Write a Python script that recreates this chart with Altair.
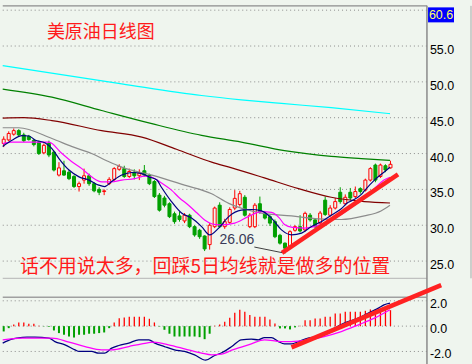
import altair as alt
import pandas as pd

BG = "#eff5ee"

# ---- daily candles (index 0..77) ----
opens = [41.4, 41.9, 42.7, 43.2, 42.6, 42.4, 41.85, 41.6, 40.1, 41.4,
         40.2, 37.0, 37.6, 37.4, 36.8, 35.4, 36.3, 36.9, 35.8, 35.0,
         34.7, 35.8, 36.4, 37.8, 37.9, 36.8, 37.4, 36.9, 37.6, 37.0,
         36.1, 34.2, 33.8, 33.0, 31.6, 31.3, 30.6, 31.4, 29.8, 29.3,
         28.5, 27.3, 29.8, 32.8, 29.8, 30.4, 32.4, 32.9, 33.9, 29.8,
         29.8, 33.0, 31.7, 31.2, 30.5, 28.6, 27.5, 27.0, 29.3, 29.8,
         29.35, 31.4, 30.75, 30.3, 33.5, 31.4, 32.4, 34.6, 33.0, 34.6,
         34.0, 35.1, 34.9, 36.3, 38.4, 36.8, 38.3, 38.0]
highs = [42.4, 43.1, 43.5, 43.4, 42.9, 42.6, 42.0, 41.8, 41.4, 41.8,
         40.4, 38.8, 39.0, 37.7, 37.0, 36.1, 37.9, 37.2, 36.0, 35.3,
         35.0, 36.7, 38.1, 38.5, 38.3, 37.9, 37.8, 37.8, 38.4, 37.2,
         36.3, 34.5, 34.1, 33.2, 31.9, 31.9, 31.7, 31.6, 30.0, 29.5,
         28.6, 30.3, 32.6, 33.2, 30.9, 32.5, 34.9, 34.8, 34.2, 31.7,
         33.1, 34.0, 32.0, 31.5, 30.8, 28.8, 27.6, 29.3, 30.0, 31.4,
         31.9, 31.7, 31.0, 32.0, 34.0, 32.8, 33.8, 35.3, 34.3, 35.2,
         35.4, 35.3, 36.5, 38.1, 38.6, 38.6, 38.5, 39.0]
lows = [40.9, 41.7, 42.5, 42.4, 41.6, 41.8, 41.0, 39.8, 39.9, 39.5,
        37.5, 36.8, 36.9, 36.3, 35.2, 34.7, 35.8, 35.5, 34.6, 34.2,
        34.2, 35.6, 36.2, 37.6, 36.6, 36.6, 36.4, 36.3, 36.8, 35.6,
        33.8, 31.9, 32.5, 31.0, 30.2, 30.5, 30.3, 29.6, 28.4, 28.1,
        26.4, 26.6, 29.6, 29.6, 29.5, 30.2, 32.1, 32.6, 31.2, 29.6,
        29.6, 31.6, 30.8, 29.9, 28.2, 27.3, 26.06, 26.8, 29.1, 29.0,
        29.1, 30.5, 29.6, 30.1, 31.3, 31.2, 32.2, 33.0, 32.8, 33.5,
        33.8, 34.4, 34.7, 36.1, 36.0, 36.6, 37.4, 37.9]
closes = [42.0, 42.8, 43.2, 42.6, 41.8, 41.95, 41.25, 40.0, 41.15, 39.8,
          37.7, 38.0, 37.0, 36.5, 35.4, 35.8, 36.9, 35.8, 34.8, 34.6,
          34.8, 36.4, 37.9, 38.2, 36.8, 37.5, 36.9, 37.3, 37.0, 35.8,
          34.0, 32.1, 32.8, 31.2, 30.5, 30.8, 31.4, 29.8, 28.65, 28.4,
          26.7, 30.0, 32.4, 29.8, 30.5, 32.2, 33.75, 34.4, 31.4, 31.4,
          32.8, 31.9, 31.0, 30.3, 28.4, 27.5, 26.8, 29.1, 29.8, 29.2,
          31.66, 30.75, 29.8, 31.7, 31.5, 32.4, 33.3, 33.3, 33.9, 33.8,
          34.7, 34.7, 36.3, 37.9, 36.3, 38.4, 37.7, 38.5]

# ---- moving averages (candle index, price) ----
ma5_idx = [-0.2, 1.65, 3.64, 5.03, 6.22, 8.2, 9.6, 11.0, 13.0, 15.0,
           17.0, 18.9, 20.1, 21.5, 23.5, 25.5, 27.5, 28.9, 30.5, 31.4,
           33.4, 35.4, 37.4, 39.4, 41.0, 42.8, 44.8, 47.3, 49.3, 51.3,
           53.3, 55.3, 57.3, 59.3, 61.2, 63.2, 65.2, 67.2, 68.6, 69.2,
           71.2, 71.8, 73.8, 75.7, 76.9]
ma5_val = [41.0, 41.85, 42.5, 42.45, 41.9, 41.5, 40.7, 39.3, 37.7, 36.75,
           36.3, 35.6, 35.4, 36.1, 37.0, 37.36, 37.2, 36.75, 36.3, 35.3,
           33.3, 31.7, 31.0, 29.8, 28.65, 29.6, 31.2, 32.1, 32.2, 32.0,
           31.0, 29.35, 28.65, 28.9, 29.8, 30.5, 31.4, 32.3, 33.2, 33.4,
           34.3, 34.8, 36.3, 37.4, 38.1]
ma10_idx = [-0.2, 1.65, 9.0, 11.6, 13.5, 15.55, 17.5, 19.5, 21.5, 23.5,
            26.1, 28.1, 29.5, 31.4, 33.4, 35.0, 36.8, 38.5, 40.0, 42.8,
            46.0, 48.7, 51.3, 53.3, 54.9, 55.9, 57.5, 59.9, 61.8, 64.6,
            67.2, 69.8, 71.8, 73.8, 75.7, 76.9]
ma10_val = [41.39, 41.6, 41.6, 40.0, 38.9, 37.9, 36.75, 36.05, 36.05, 36.3,
            36.5, 36.85, 36.7, 35.9, 34.9, 33.8, 32.8, 31.7, 30.74, 30.04,
            30.3, 31.2, 31.9, 31.8, 31.0, 30.1, 29.7, 29.6, 29.8, 30.5,
            31.5, 32.8, 33.75, 35.1, 36.3, 36.7]
ma30_idx = [-0.2, 3.0, 9.6, 13.5, 17.5, 20.5, 23.5, 29.5, 36.0, 41.4,
            44.8, 48.7, 51.3, 57.3, 62.6, 67.2, 71.8, 75.1, 76.9]
ma30_val = [43.6, 43.6, 42.1, 41.0, 40.0, 39.0, 38.1, 37.0, 35.6, 34.4,
            33.05, 32.1, 31.7, 31.3, 30.9, 30.8, 31.3, 32.0, 32.8]
ma60_idx = [-0.2, 4.0, 9.6, 19.5, 27.5, 34.4, 41.4, 45.4, 51.9, 58.7,
            65.2, 71.8, 76.9]
ma60_val = [44.95, 45.0, 44.6, 43.2, 42.3, 40.6, 38.8, 38.0, 36.6, 35.1,
            33.9, 33.3, 33.1]
ma120_idx = [-0.2, 9.6, 19.5, 29.5, 39.4, 47.3, 55.9, 65.2, 71.2, 76.9]
ma120_val = [49.0, 47.86, 46.0, 44.17, 42.54, 41.6, 40.4, 39.6, 39.3, 39.05]
ma250_idx = [-0.2, 23.5, 39.4, 47.3, 55.3, 65.2, 76.9]
ma250_val = [52.26, 49.72, 48.1, 47.5, 46.99, 46.4, 45.56]

# ---- MACD ----
macd_hist = [-0.42, -0.16, 0.13, 0.29, 0.29, 0.18, 0.18, 0.03, -0.02, -0.05,
             -0.34, -0.55, -0.68, -0.82, -0.9, -0.68, -0.68, -0.6, -0.6, -0.55,
             -0.5, -0.16, 0.29, 0.63, 0.68, 0.74, 0.74, 0.74, 0.74, 0.58,
             0.29, -0.03, -0.29, -0.6, -0.82, -0.82, -0.82, -0.82, -0.82, -0.87,
             -1.03, -0.6, 0.02, 0.12, 0.34, 0.66, 1.05, 1.3, 1.13, 0.87,
             0.74, 0.74, 0.74, 0.53, 0.21, -0.18, -0.18, -0.26, -0.1, 0.02,
             0.47, 0.47, 0.6, 0.6, 0.74, 0.74, 1.0, 1.0, 1.13, 1.13,
             1.13, 1.13, 1.21, 1.32, 1.32, 1.26, 1.26, 1.26]
dif_idx = [-0.2, 1.65, 2.64, 4.63, 6.22, 9.0, 10.2, 12.2, 14.2, 15.0,
           17.5, 18.9, 20.1, 21.5, 22.9, 24.9, 26.9, 28.9, 30.1, 32.0,
           34.0, 36.0, 38.0, 40.2, 42.0, 43.4, 45.4, 47.3, 49.3, 50.7,
           51.9, 53.3, 54.7, 55.9, 57.3, 58.7, 60.6, 62.6, 65.2, 67.8,
           70.6, 73.2, 74.6, 75.7, 76.9]
dif_val = [-1.34, -1.03, -0.95, -0.87, -0.87, -0.95, -1.22, -1.48, -1.87, -2.0,
           -2.0, -2.13, -2.13, -1.74, -1.53, -1.34, -1.08, -1.08, -1.34, -1.61,
           -1.87, -2.0, -2.27, -2.69, -2.32, -2.1, -1.61, -1.08, -1.03, -1.08,
           -0.9, -0.9, -1.22, -1.4, -1.4, -1.22, -0.95, -0.82, -0.29, 0.24,
           0.63, 1.15, 1.42, 1.68, 1.82]
dea_idx = [-0.2, 3.6, 9.6, 13.0, 16.2, 19.5, 21.5, 24.9, 27.5, 29.9,
           32.8, 36.0, 39.4, 41.4, 43.4, 45.4, 47.3, 49.3, 51.9, 55.3,
           57.3, 60.6, 63.8, 67.2, 70.6, 73.8, 76.9]
dea_val = [-1.08, -0.95, -0.95, -1.26, -1.61, -1.87, -1.87, -1.61, -1.4, -1.26,
           -1.48, -1.79, -2.13, -2.27, -2.21, -1.9, -1.65, -1.4, -1.08, -1.22,
           -1.22, -1.08, -0.82, -0.43, 0.1, 0.63, 1.29]

# ---- ticks and annotations ----
price_grid = [25, 30, 35, 40, 45, 50, 55, 60]
price_labels = ["25.0", "30.0", "35.0", "40.0", "45.0", "50.0", "55.0"]
macd_grid = [-2, 0, 2]
macd_labels = ["-2.0", "0.0", "2.0"]
title_text = "美原油日线图"
note_text = "话不用说太多，回踩5日均线就是做多的位置"
top_value = 60.6
low_value = 26.06
low_index = 56
trend_idx = [55.4, 78.5]
trend_val = [26.15, 37.1]
macd_trend_idx = [57.3, 87.1]
macd_trend_val = [-1.68, 3.24]

X_DOM = [-0.34, 84.29]
P_DOM = [22.6, 60.6]
M_DOM = [-3.0, 2.28]
W = 426
H_MAIN = 273
H_MACD = 67
LABEL_I = 84.85     # label column just right of the price axis line
AXIS_I = X_DOM[1] - 0.03


def X(field="i"):
    return alt.X(f"{field}:Q",
                 scale=alt.Scale(domain=X_DOM, nice=False, zero=False, padding=0),
                 axis=None)


def Y(field, dom):
    return alt.Y(f"{field}:Q",
                 scale=alt.Scale(domain=dom, nice=False, zero=False, padding=0),
                 axis=None)


RED = "#ff0000"
GRN = "#00a000"
up = [c >= o for o, c in zip(opens, closes)]
cdf = pd.DataFrame({
    "i": list(range(len(closes))), "open": opens, "high": highs, "low": lows, "close": closes,
    "col": [RED if u else GRN for u in up],
    "fill": [BG if u else GRN for u in up],
})

# gridlines + labels (main)
gdf = pd.DataFrame({"i": [-0.19] * len(price_grid), "i2": [X_DOM[1]] * len(price_grid),
                    "v": price_grid})
grid_main = alt.Chart(gdf).mark_rule(color="#8c8c8c", strokeWidth=1, strokeDash=[1, 3]).encode(
    x=X(), x2="i2:Q", y=Y("v", P_DOM))
pldf = pd.DataFrame({"i": [LABEL_I] * len(price_labels),
                     "v": [float(s) for s in price_labels], "t": price_labels})
labels_main = alt.Chart(pldf).mark_text(
    align="left", baseline="middle", dy=4, font="Liberation Sans", fontSize=12.5,
    color="#000000").encode(x=X(), y=Y("v", P_DOM), text="t:N")

wicks = alt.Chart(cdf).mark_rule(strokeWidth=1).encode(
    x=X(), y=Y("low", P_DOM), y2="high:Q",
    color=alt.Color("col:N", scale=None))
bodies = alt.Chart(cdf).mark_bar(width=3, strokeWidth=1).encode(
    x=X(), y=Y("open", P_DOM), y2="close:Q",
    fill=alt.Fill("fill:N", scale=None), stroke=alt.Stroke("col:N", scale=None))

ma_specs = [("MA250", ma250_idx, ma250_val, "#00ffff"),
            ("MA120", ma120_idx, ma120_val, "#008000"),
            ("MA60", ma60_idx, ma60_val, "#800000"),
            ("MA30", ma30_idx, ma30_val, "#8c8c8c"),
            ("MA10", ma10_idx, ma10_val, "#ff00ff"),
            ("MA5", ma5_idx, ma5_val, "#000080")]
rows = []
for name, ii, vv, col in ma_specs:
    for a, b in zip(ii, vv):
        rows.append({"i": a, "v": b, "s": name, "col": col})
mdf = pd.DataFrame(rows)
ma_lines = alt.Chart(mdf).mark_line(interpolate="monotone", strokeWidth=1.2).encode(
    x=X(), y=Y("v", P_DOM), color=alt.Color("col:N", scale=None), detail="s:N")

# panel borders
bdf = pd.DataFrame({"i": [-0.19, -0.19], "i2": [X_DOM[1], X_DOM[1]],
                    "v": [P_DOM[1], P_DOM[0]], "col": ["#8c8c8c", "#b4b4b4"],
                    "w": [1.5, 1.0]})
borders = alt.Chart(bdf).mark_rule().encode(
    x=X(), x2="i2:Q", y=Y("v", P_DOM), color=alt.Color("col:N", scale=None),
    strokeWidth=alt.StrokeWidth("w:Q", scale=None))
gap_px = 19
adf = pd.DataFrame({"i": [AXIS_I], "v": [P_DOM[1]],
                    "v2": [P_DOM[0] - gap_px * (P_DOM[1] - P_DOM[0]) / H_MAIN]})
axis_main = alt.Chart(adf).mark_rule(color="#8a8a8a", strokeWidth=1.5).encode(
    x=X(), y=Y("v", P_DOM), y2="v2:Q")

# far-right edge line
edf = pd.DataFrame({"i": [93.03], "v": [P_DOM[0]], "v2": [P_DOM[1]]})
edge = alt.Chart(edf).mark_rule(color="#a8a8a8", strokeWidth=1).encode(
    x=X(), y=Y("v", P_DOM), y2="v2:Q")

tdf = pd.DataFrame({"i": trend_idx, "v": trend_val})
trend = alt.Chart(tdf).mark_line(color="#ff2222", strokeWidth=4.5).encode(
    x=X(), y=Y("v", P_DOM))

title_df = pd.DataFrame({"i": [8.6], "v": [56.84], "t": [title_text]})
title_mark = alt.Chart(title_df).mark_text(
    align="left", baseline="middle", font="Noto Sans CJK SC", fontSize=18,
    color="#ff1a1a").encode(x=X(), y=Y("v", P_DOM), text="t:N")
note_df = pd.DataFrame({"i": [3.24], "v": [24.13], "t": [note_text]})
note_mark = alt.Chart(note_df).mark_text(
    align="left", baseline="middle", font="Noto Sans CJK SC", fontSize=19,
    color="#ff1a1a").encode(x=X(), y=Y("v", P_DOM), text="t:N")

low_df = pd.DataFrame({"i": [low_index - 6.1], "v": [low_value + 1.9],
                       "t": [f"{low_value:.2f}"]})
low_text = alt.Chart(low_df).mark_text(
    align="right", baseline="middle", font="Liberation Sans", fontSize=14,
    color="#3a3a58").encode(x=X(), y=Y("v", P_DOM), text="t:N")
ptr_df = pd.DataFrame({"i": [low_index - 6.1], "i2": [low_index - 0.6],
                       "v": [low_value + 0.9], "v2": [low_value + 0.12]})
pointer = alt.Chart(ptr_df).mark_rule(color="#404040", strokeWidth=1).encode(
    x=X(), x2="i2:Q", y=Y("v", P_DOM), y2="v2:Q")

box_df = pd.DataFrame({"i": [84.48], "i2": [89.65], "v": [top_value - 0.21],
                       "v2": [top_value - 2.3]})
box = alt.Chart(box_df).mark_rect(color="#0000ff").encode(
    x=X(), x2="i2:Q", y=Y("v", P_DOM), y2="v2:Q")
box_t_df = pd.DataFrame({"i": [87.07], "v": [top_value - 1.25], "t": [f"{top_value:.1f}"]})
box_text = alt.Chart(box_t_df).mark_text(
    align="center", baseline="middle", font="Liberation Sans", fontSize=12.5,
    color="#ffff66").encode(x=X(), y=Y("v", P_DOM), text="t:N")

main = alt.layer(grid_main, wicks, bodies, ma_lines, borders, axis_main, edge, trend,
                 title_mark, note_mark, low_text, pointer, box, box_text, labels_main
                 ).properties(width=W, height=H_MAIN)

# ---- MACD panel ----
mgdf = pd.DataFrame({"i": [-0.19] * len(macd_grid), "i2": [X_DOM[1]] * len(macd_grid),
                     "v": macd_grid})
grid_macd = alt.Chart(mgdf).mark_rule(color="#8c8c8c", strokeWidth=1, strokeDash=[1, 3]).encode(
    x=X(), x2="i2:Q", y=Y("v", M_DOM))
mldf = pd.DataFrame({"i": [LABEL_I] * len(macd_labels),
                     "v": [float(s) for s in macd_labels], "t": macd_labels})
labels_macd = alt.Chart(mldf).mark_text(
    align="left", baseline="middle", dy=3, font="Liberation Sans", fontSize=12.5,
    color="#000000").encode(x=X(), y=Y("v", M_DOM), text="t:N")

hdf = pd.DataFrame({"i": list(range(len(macd_hist))), "h": macd_hist,
                    "z": [0.0] * len(macd_hist),
                    "col": [RED if h >= 0 else GRN for h in macd_hist],
                    "w": [1.3 if h >= 0 else 2.0 for h in macd_hist]})
hist = alt.Chart(hdf).mark_rule().encode(
    x=X(), y=Y("h", M_DOM), y2="z:Q",
    color=alt.Color("col:N", scale=None), strokeWidth=alt.StrokeWidth("w:Q", scale=None))

lrows = []
for a, b in zip(dif_idx, dif_val):
    lrows.append({"i": a, "v": b, "s": "DIF", "col": "#000080"})
for a, b in zip(dea_idx, dea_val):
    lrows.append({"i": a, "v": b, "s": "DEA", "col": "#ff00ff"})
ldf = pd.DataFrame(lrows)
macd_lines = alt.Chart(ldf).mark_line(interpolate="monotone", strokeWidth=1.3).encode(
    x=X(), y=Y("v", M_DOM), color=alt.Color("col:N", scale=None), detail="s:N")

mbdf = pd.DataFrame({"i": [-0.19], "i2": [X_DOM[1]], "v": [M_DOM[1]]})
mborder = alt.Chart(mbdf).mark_rule(color="#a0a0a0", strokeWidth=1.5).encode(
    x=X(), x2="i2:Q", y=Y("v", M_DOM))
maxdf = pd.DataFrame({"i": [AXIS_I], "v": [M_DOM[0]], "v2": [M_DOM[1]]})
axis_macd = alt.Chart(maxdf).mark_rule(color="#8a8a8a", strokeWidth=1.5).encode(
    x=X(), y=Y("v", M_DOM), y2="v2:Q")

mtdf = pd.DataFrame({"i": macd_trend_idx, "v": macd_trend_val})
mtrend = alt.Chart(mtdf).mark_line(color="#ff2222", strokeWidth=4.5).encode(
    x=X(), y=Y("v", M_DOM))

macd = alt.layer(grid_macd, hist, macd_lines, mborder, axis_macd, labels_macd, mtrend
                 ).properties(width=W, height=H_MACD)

chart = alt.vconcat(main, macd, spacing=19, bounds="flush").properties(
    background=BG,
    padding={"top": 4.5, "left": 0, "right": 0, "bottom": 0},
).configure_view(stroke=None)

chart.save("out.html", embed_options={"renderer": "svg", "actions": False})
